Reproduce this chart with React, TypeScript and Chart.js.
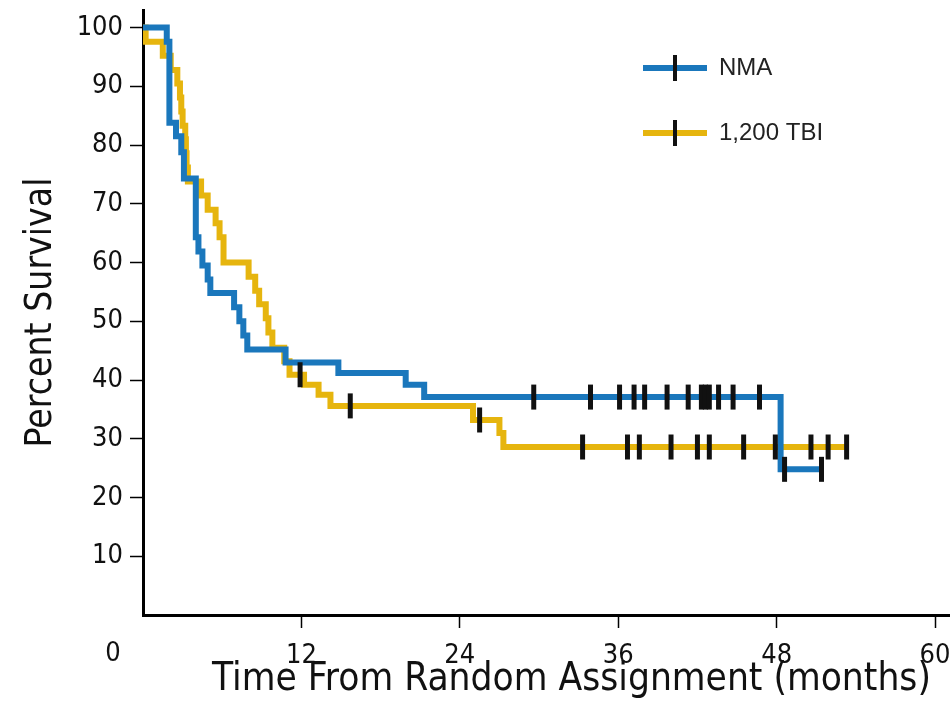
import React, { useEffect, useRef } from 'react';
import { Chart, registerables } from 'chart.js';

Chart.register(...registerables);

// Kaplan-Meier step data (months, percent survival)
const nmaTimes = [0, 1.8, 2.0, 2.5, 2.9, 3.1, 4.0, 4.2, 4.5, 4.9, 5.1, 6.9, 7.3, 7.6, 7.9, 10.8, 14.8, 19.9, 21.3, 48.3, 51.4];
const nmaSurvival = [100, 97.6, 83.8, 81.5, 78.8, 74.3, 64.3, 61.9, 59.5, 57.1, 54.8, 52.4, 50.0, 47.6, 45.2, 43.0, 41.2, 39.2, 37.1, 24.8, 24.8];

const tbiTimes = [0, 0.2, 1.5, 2.1, 2.6, 2.8, 2.9, 3.0, 3.2, 3.25, 3.3, 3.4, 4.4, 4.9, 5.5, 5.8, 6.1, 8.0, 8.5, 8.8, 9.3, 9.5, 9.8, 10.7, 11.1, 12.2, 13.3, 14.2, 25.0, 27.0, 27.3, 53.3];
const tbiSurvival = [100, 97.6, 95.2, 92.8, 90.5, 88.1, 85.7, 83.3, 81.0, 78.6, 76.2, 73.8, 71.4, 69.0, 66.7, 64.3, 60.0, 57.6, 55.2, 52.9, 50.5, 48.1, 45.5, 43.2, 40.9, 39.2, 37.5, 35.6, 33.2, 31.0, 28.6, 28.6];

// Censored observations
const nmaCensorTimes = [29.6, 33.9, 36.1, 37.2, 38.0, 39.7, 41.3, 42.3, 42.6, 42.9, 43.6, 44.7, 46.7, 48.6, 51.4];
const nmaCensorSurvival = [37.1, 37.1, 37.1, 37.1, 37.1, 37.1, 37.1, 37.1, 37.1, 37.1, 37.1, 37.1, 37.1, 24.8, 24.8];

const tbiCensorTimes = [11.9, 15.7, 25.5, 33.3, 36.7, 37.6, 40.0, 42.0, 42.9, 45.5, 47.9, 50.6, 51.9, 53.3];
const tbiCensorSurvival = [40.9, 35.6, 33.2, 28.6, 28.6, 28.6, 28.6, 28.6, 28.6, 28.6, 28.6, 28.6, 28.6, 28.6];

const seriesLabels = ['NMA', '1,200 TBI'];
const xTicks = [12, 24, 36, 48, 60];
const yTicks = [10, 20, 30, 40, 50, 60, 70, 80, 90, 100];
const originLabel = '0';

const BLUE = '#1a77bc';
const GOLD = '#e6b50e';
const NARROW = '"Liberation Sans Narrow", "DejaVu Sans Condensed", "Arial Narrow", sans-serif';
const SANS = '"Liberation Sans", Arial, sans-serif';

const toXY = (xs: number[], ys: number[]) => xs.map((x, i) => ({ x, y: ys[i] }));

function legendGlyph(color: string): HTMLCanvasElement {
  const c = document.createElement('canvas');
  c.width = 64;
  c.height = 26;
  const g = c.getContext('2d')!;
  g.fillStyle = color;
  g.fillRect(0, 10, 64, 6);
  g.fillStyle = '#111';
  g.fillRect(30, 0, 4, 26);
  return c;
}

const zeroPad = (s: any) => {
  s.paddingTop = 0;
  s.paddingBottom = 0;
  s.paddingLeft = 0;
  s.paddingRight = 0;
};

export default function App() {
  const ref = useRef<HTMLCanvasElement>(null);

  useEffect(() => {
    const canvas = ref.current;
    if (!canvas) return;

    const legendPos = {
      id: 'legendPos',
      beforeDraw(chart: any) {
        const l = chart.legend;
        if (!l) return;
        l.left = 602;
        l.top = 15;
        l.right = 950;
        l.bottom = 300;
      },
    };

    const zeroLabel = {
      id: 'zeroLabel',
      afterDraw(chart: any) {
        const ctx = chart.ctx;
        const xs = chart.scales.x;
        ctx.save();
        ctx.font = `27px ${NARROW}`;
        ctx.fillStyle = '#111';
        ctx.textAlign = 'center';
        ctx.textBaseline = 'top';
        ctx.fillText(originLabel, 113, xs.top + 13 + 12);
        ctx.restore();
      },
    };

    const chart = new Chart(canvas, {
      type: 'line',
      data: {
        datasets: [
          {
            label: seriesLabels[0],
            data: toXY(nmaTimes, nmaSurvival),
            borderColor: BLUE,
            backgroundColor: BLUE,
            borderWidth: 6,
            stepped: true,
            pointRadius: 0,
            pointStyle: legendGlyph(BLUE) as any,
            fill: false,
            order: 1,
          },
          {
            label: seriesLabels[1],
            data: toXY(tbiTimes, tbiSurvival),
            borderColor: GOLD,
            backgroundColor: GOLD,
            borderWidth: 6,
            stepped: true,
            pointRadius: 0,
            pointStyle: legendGlyph(GOLD) as any,
            fill: false,
            order: 2,
          },
          {
            type: 'scatter',
            label: 'NMA censored',
            data: toXY(nmaCensorTimes, nmaCensorSurvival),
            pointStyle: 'line',
            pointRotation: 90,
            pointRadius: 12.5,
            pointBorderWidth: 5,
            pointBorderColor: '#111',
            borderColor: '#111',
            order: 0,
          } as any,
          {
            type: 'scatter',
            label: 'TBI censored',
            data: toXY(tbiCensorTimes, tbiCensorSurvival),
            pointStyle: 'line',
            pointRotation: 90,
            pointRadius: 12.5,
            pointBorderWidth: 5,
            pointBorderColor: '#111',
            borderColor: '#111',
            order: 0,
          } as any,
        ],
      },
      options: {
        animation: false,
        responsive: false,
        maintainAspectRatio: false,
        layout: { autoPadding: false, padding: { top: 10, left: 0, right: 0, bottom: 0 } },
        plugins: {
          tooltip: { enabled: false },
          legend: {
            position: 'chartArea' as any,
            align: 'start',
            labels: {
              usePointStyle: true,
              pointStyleWidth: 64,
              padding: 41,
              color: '#222',
              font: { family: SANS, size: 24 },
              filter: (item: any) => item.datasetIndex < 2,
            },
          },
        },
        scales: {
          x: {
            type: 'linear',
            min: 0,
            max: 64.92,
            afterBuildTicks: (s: any) => {
              s.ticks = xTicks.map((v) => ({ value: v }));
            },
            afterFit: (s: any) => {
              s.height = 109;
              zeroPad(s);
            },
            border: { color: '#000', width: 3 },
            grid: { drawOnChartArea: false, drawTicks: true, tickLength: 13, tickColor: '#000', tickWidth: 1.5 },
            ticks: { color: '#111', font: { family: NARROW, size: 27 }, padding: 12, maxRotation: 0, autoSkip: false },
            title: {
              display: true,
              text: 'Time From Random Assignment (months)',
              color: '#111',
              font: { family: NARROW, size: 38.5 },
              padding: { top: 0, bottom: 21 },
            },
          },
          y: {
            type: 'linear',
            min: 0,
            max: 103,
            afterBuildTicks: (s: any) => {
              s.ticks = yTicks.map((v) => ({ value: v }));
            },
            afterFit: (s: any) => {
              s.width = 143;
              zeroPad(s);
            },
            border: { color: '#000', width: 3 },
            grid: { drawOnChartArea: false, drawTicks: true, tickLength: 13, tickColor: '#000', tickWidth: 1.5 },
            ticks: { color: '#111', font: { family: NARROW, size: 27 }, padding: 7 },
            title: {
              display: true,
              text: 'Percent Survival',
              color: '#111',
              font: { family: NARROW, size: 37 },
              padding: { top: 19, bottom: 0 },
            },
          },
        },
      },
      plugins: [legendPos, zeroLabel],
    });

    return () => chart.destroy();
  }, []);

  return (
    <div style={{ position: 'fixed', left: 0, top: 0, width: 950, height: 724, overflow: 'hidden', background: '#fff' }}>
      <canvas ref={ref} width={1000} height={724} style={{ display: 'block', width: 1000, height: 724 }} />
    </div>
  );
}
